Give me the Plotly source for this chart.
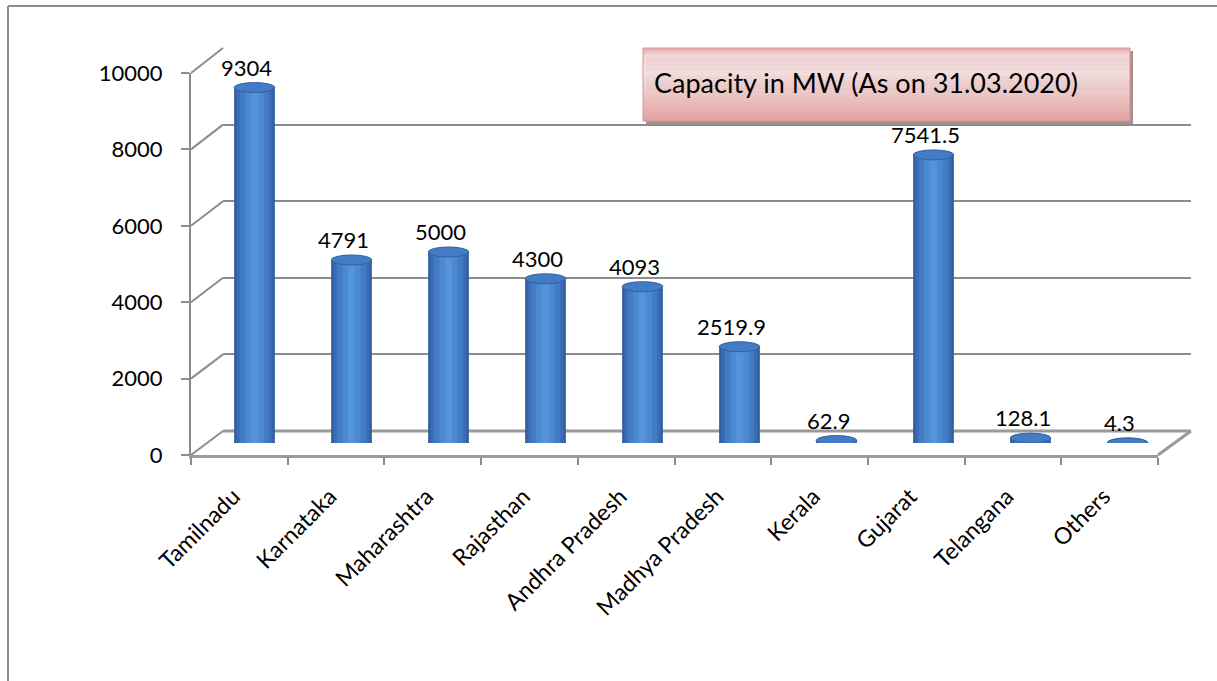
import plotly.graph_objects as go

# ---------------- data ----------------
states = ["Tamilnadu", "Karnataka", "Maharashtra", "Rajasthan", "Andhra Pradesh",
          "Madhya Pradesh", "Kerala", "Gujarat", "Telangana", "Others"]
capacity_mw = [9304, 4791, 5000, 4300, 4093, 2519.9, 62.9, 7541.5, 128.1, 4.3]
y_ticks = [0, 2000, 4000, 6000, 8000, 10000]
box_title = "Capacity in MW (As on 31.03.2020)"

W, H = 1217, 681
FONT = "Lato"
GRAY = "#8c8c8c"


def px(x):
    return x / W


def py(y):
    return 1 - y / H


# pixel geometry of the pseudo-3D frame
FRONT_X0, FRONT_X1, FRONT_Y0, FRONT_Y1 = 191, 1158, 455, 73
BACK_X0, BACK_X1, BACK_Y0, BACK_Y1 = 223, 1191, 431, 48
MID_X0, MID_X1, MID_Y0, MID_Y1 = 206, 1176, 443, 61
YMAX = 10000

fig = go.Figure()

# back wall (drawn first so bars lie on top of its gridlines)
fig.add_trace(go.Scatter(x=[0, 1], y=[0, 0], mode="markers", marker=dict(opacity=0),
                         showlegend=False, hoverinfo="skip", xaxis="x", yaxis="y"))
# front axis (labels)
fig.add_trace(go.Scatter(x=states, y=[0] * len(states), mode="markers", marker=dict(opacity=0),
                         showlegend=False, hoverinfo="skip", xaxis="x2", yaxis="y2"))

# cylinders: layered bars for shading
layers = [(0.42, "#32609f"), (0.37, "#3a6eb4"), (0.30, "#437cc4"), (0.19, "#4b89d1"), (0.08, "#5594dc")]
for w, c in layers:
    fig.add_trace(go.Bar(x=states, y=capacity_mw, width=w, marker=dict(color=c, line=dict(width=0)),
                         showlegend=False, hoverinfo="skip", xaxis="x3", yaxis="y3"))

shapes = []
# outer frame
shapes.append(dict(type="line", xref="paper", yref="paper", x0=px(8), x1=px(W), y0=py(6), y1=py(6),
                   line=dict(color=GRAY, width=2)))
shapes.append(dict(type="line", xref="paper", yref="paper", x0=px(8), x1=px(8), y0=py(6), y1=py(H),
                   line=dict(color=GRAY, width=2)))

# diagonal connectors from front ticks to back wall
for v in y_ticks:
    yf = FRONT_Y0 - v * (FRONT_Y0 - FRONT_Y1) / YMAX
    yb = BACK_Y0 - v * (BACK_Y0 - BACK_Y1) / YMAX
    shapes.append(dict(type="line", xref="paper", yref="paper", x0=px(FRONT_X0), y0=py(yf),
                       x1=px(BACK_X0), y1=py(yb), line=dict(color=GRAY, width=2), layer="below"))
# floor
shapes.append(dict(type="line", xref="paper", yref="paper", x0=px(BACK_X0), y0=py(BACK_Y0),
                   x1=px(BACK_X1), y1=py(BACK_Y0), line=dict(color="#9a9a9a", width=3), layer="below"))
shapes.append(dict(type="line", xref="paper", yref="paper", x0=px(FRONT_X1), y0=py(FRONT_Y0),
                   x1=px(BACK_X1), y1=py(BACK_Y0), line=dict(color="#9a9a9a", width=3), layer="below"))

# cylinder ends (ellipses) computed from data
half_w = 0.21
dy = 5 * YMAX / (MID_Y0 - MID_Y1)
for i, v in enumerate(capacity_mw):
    shapes.append(dict(type="circle", xref="x3", yref="y3", x0=i - half_w, x1=i + half_w,
                       y0=-dy, y1=dy, fillcolor="#3a6eb4", line=dict(width=0), layer="below"))
    shapes.append(dict(type="circle", xref="x3", yref="y3", x0=i - half_w, x1=i + half_w,
                       y0=v - dy, y1=v + dy, fillcolor="#437cc4",
                       line=dict(color="#32609f", width=1), layer="above"))

# title box with shadow and gradient
BX0, BX1, BY0, BY1 = 643, 1130, 48, 121
shapes.append(dict(type="rect", xref="paper", yref="paper", x0=px(BX0 + 3), x1=px(BX1 + 3),
                   y0=py(BY0 + 3), y1=py(BY1 + 3), fillcolor="#a98c8c", line=dict(width=0)))
stops = [(0.0, (229, 170, 170)), (0.1, (241, 214, 214)), (0.35, (244, 224, 224)), (1.0, (226, 162, 162))]


def grad(t):
    for (t0, c0), (t1, c1) in zip(stops[:-1], stops[1:]):
        if t <= t1:
            f = (t - t0) / (t1 - t0) if t1 > t0 else 0
            return "rgb(%d,%d,%d)" % tuple(round(a + (b - a) * f) for a, b in zip(c0, c1))
    return "rgb(%d,%d,%d)" % stops[-1][1]


N = 36
for k in range(N):
    ya = BY0 + (BY1 - BY0) * k / N
    yb = BY0 + (BY1 - BY0) * (k + 1) / N
    shapes.append(dict(type="rect", xref="paper", yref="paper", x0=px(BX0), x1=px(BX1),
                       y0=py(yb + 0.3), y1=py(ya), fillcolor=grad((k + 0.5) / N), line=dict(width=0)))
shapes.append(dict(type="rect", xref="paper", yref="paper", x0=px(BX0), x1=px(BX1),
                   y0=py(BY1), y1=py(BY0), fillcolor="rgba(0,0,0,0)", line=dict(color="#d99494", width=1)))

annotations = [dict(text=box_title, xref="paper", yref="paper", x=px(BX0 + 9), y=py((BY0 + BY1) / 2 - 2),
                    xanchor="left", yanchor="middle", showarrow=False,
                    font=dict(family=FONT, size=27, color="#000000"))]
for s, v in zip(states, capacity_mw):
    annotations.append(dict(text=f"{v:g}", xref="x3", yref="y3", x=s, y=v, xanchor="center",
                            yanchor="bottom", yshift=5, xshift=-8, showarrow=False,
                            font=dict(family=FONT, size=22, color="#000000")))

fig.update_layout(
    width=W, height=H, autosize=False,
    margin=dict(l=0, r=0, t=0, b=0, pad=0),
    paper_bgcolor="white", plot_bgcolor="rgba(0,0,0,0)",
    barmode="overlay", showlegend=False,
    font=dict(family=FONT, size=22, color="#000000"),
    xaxis=dict(domain=[px(BACK_X0), px(BACK_X1)], range=[0, 1], visible=False, anchor="y",
               automargin=False),
    yaxis=dict(domain=[py(BACK_Y0), py(BACK_Y1)], range=[0, YMAX], anchor="x", automargin=False,
               showgrid=True, gridcolor=GRAY, gridwidth=2, tickvals=y_ticks,
               showticklabels=False, ticks="", zeroline=False, showline=False),
    xaxis2=dict(domain=[px(FRONT_X0), px(FRONT_X1)], range=[-0.5, len(states) - 0.5], anchor="y2",
                type="category", categoryorder="array", categoryarray=states, automargin=False,
                showline=True, linecolor="#9a9a9a", linewidth=3, showgrid=False, zeroline=False,
                ticks="outside", tickson="boundaries", ticklen=7, tickcolor=GRAY, tickwidth=2,
                tickangle=-45, ticklabelstandoff=16, ticklabelshift=-6,
                tickfont=dict(family=FONT, size=23, color="#000000")),
    yaxis2=dict(domain=[py(FRONT_Y0), py(FRONT_Y1)], range=[0, YMAX], anchor="x2", automargin=False,
                tickvals=y_ticks, tickformat="d", showline=True, linecolor=GRAY, linewidth=2,
                showgrid=False, zeroline=False, ticks="outside", ticklen=8, tickcolor=GRAY,
                tickwidth=2, ticklabelstandoff=14, tickfont=dict(family=FONT, size=22, color="#000000")),
    xaxis3=dict(domain=[px(MID_X0), px(MID_X1)], range=[-0.5, len(states) - 0.5], anchor="y3",
                type="category", categoryorder="array", categoryarray=states, visible=False,
                automargin=False),
    yaxis3=dict(domain=[py(MID_Y0), py(MID_Y1)], range=[0, YMAX], anchor="x3", visible=False,
                automargin=False),
    shapes=shapes,
    annotations=annotations,
)

fig.write_html("out.html")
